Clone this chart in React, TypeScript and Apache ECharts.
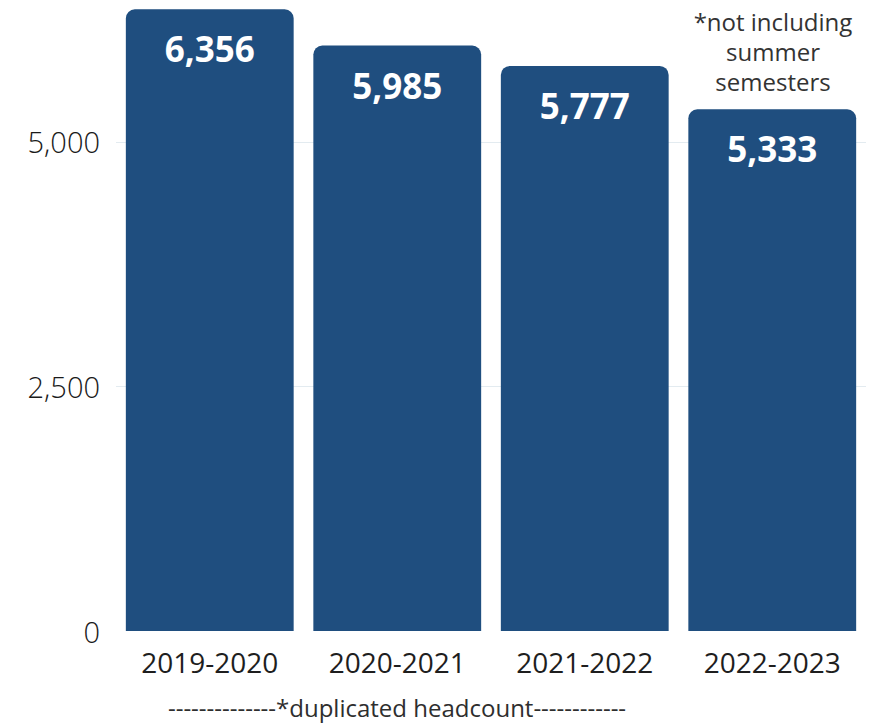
import React, { useEffect, useRef } from "react";
import * as echarts from "echarts";

const categories = ["2019-2020", "2020-2021", "2021-2022", "2022-2023"];
const headcounts = [6356, 5985, 5777, 5333];
const yTicks = [0, 2500, 5000];
const noteLines = ["*not including", "summer", "semesters"];
const footNote = "--------------*duplicated headcount------------";

export default function App() {
  const ref = useRef<HTMLDivElement>(null);
  useEffect(() => {
    if (!ref.current) return;
    const chart = echarts.init(ref.current, null, { renderer: "svg" });
    chart.setOption({
      animation: false,
      backgroundColor: "#ffffff",
      textStyle: { fontFamily: "Open Sans" },
      grid: { left: 116, right: 11, top: 5, bottom: 94, containLabel: false },
      xAxis: {
        type: "category",
        data: categories,
        axisLine: { show: false },
        axisTick: { show: false },
        axisLabel: { color: "#1e1e1e", fontSize: 28, margin: 17, fontFamily: "Open Sans" },
      },
      yAxis: {
        type: "value",
        min: 0,
        max: 6400,
        interval: 2500,
        axisLine: { show: false },
        axisTick: { show: false },
        axisLabel: {
          color: "#1a1a1a",
          fontSize: 29,
          margin: 16,
          fontFamily: "Open Sans",
          fontWeight: 300,
          showMaxLabel: false,
          formatter: (v: number) => (yTicks.includes(v) ? v.toLocaleString("en-US") : ""),
        },
        splitLine: {
          lineStyle: { color: ["transparent", "#e3ebf0", "#e3ebf0", "transparent"], width: 1 },
        },
      },
      series: [
        {
          type: "bar",
          data: headcounts,
          barCategoryGap: "10.5%",
          itemStyle: { color: "#1f4e7f", borderRadius: [9, 9, 0, 0] },
          label: {
            show: true,
            position: "insideTop",
            distance: 22,
            color: "#ffffff",
            fontSize: 35,
            fontWeight: "bold",
            fontFamily: "Open Sans",
            formatter: (p: any) => Number(p.value).toLocaleString("en-US"),
          },
        },
      ],
      graphic: [
        ...noteLines.map((t, i) => ({
          type: "text",
          x: 773,
          y: 21 + i * 30,
          style: {
            text: t,
            fill: "#333333",
            font: "24px 'Open Sans'",
            textAlign: "center",
            textVerticalAlign: "middle",
          },
        })),
        {
          type: "text",
          x: 397,
          y: 707,
          style: {
            text: footNote,
            fill: "#2e2e2e",
            font: "24px 'Open Sans'",
            textAlign: "center",
            textVerticalAlign: "middle",
          },
        },
      ],
    });
    return () => chart.dispose();
  }, []);
  return <div ref={ref} style={{ width: 877, height: 725, position: "absolute", left: 0, top: 0 }} />;
}
